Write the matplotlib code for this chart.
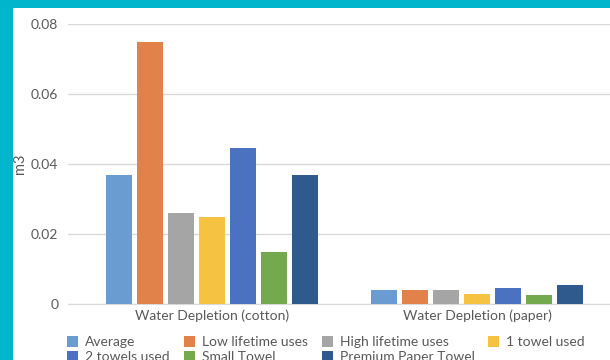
import numpy as np
import matplotlib.pyplot as plt
from matplotlib.patches import Rectangle

plt.rcParams['font.family'] = ['Lato', 'DejaVu Sans']

# Data
categories = ['Water Depletion (cotton)', 'Water Depletion (paper)']
series = ['Average', 'Low lifetime uses', 'High lifetime uses', '1 towel used',
          '2 towels used', 'Small Towel', 'Premium Paper Towel']
cotton = [0.037, 0.075, 0.026, 0.025, 0.0446, 0.015, 0.037]
paper = [0.0041, 0.0041, 0.0041, 0.0030, 0.0045, 0.0025, 0.0053]
colors = ['#6A9BD1', '#E0824A', '#A5A5A5', '#F5C242',
          '#4A72C0', '#74A94E', '#2F5A8E']

text_col = '#595959'
grid_col = '#D9D9D9'

fig = plt.figure(figsize=(6.1, 3.6), dpi=100, facecolor='#00B5CC')
# white panel inside the teal border
fig.patches.append(Rectangle((13/610, 0), 1, 352/360, transform=fig.transFigure,
                             facecolor='white', edgecolor='none', zorder=-5))

ax = fig.add_axes([68/610, 56/360, 542/610, 280/360])
ax.set_facecolor('none')
ax.set_zorder(2)

x = np.arange(len(categories))
width = 0.098
step = 0.117
for i, name in enumerate(series):
    vals = [cotton[i], paper[i]]
    ax.bar(x + (i - 3) * step, vals, width, color=colors[i], label=name, zorder=3)

ax.set_xlim(-0.543, 1.502)
ax.set_ylim(0, 0.08)
ax.set_yticks([0, 0.02, 0.04, 0.06, 0.08])
ax.set_yticklabels(['0', '0.02', '0.04', '0.06', '0.08'])
ax.set_xticks(x)
ax.set_xticklabels(categories)
ax.tick_params(length=0, labelsize=10, labelcolor=text_col)
ax.tick_params(axis='y', pad=7)
ax.tick_params(axis='x', pad=4)
ax.grid(axis='y', color=grid_col, lw=1, zorder=0)
for s in ['top', 'right', 'left']:
    ax.spines[s].set_visible(False)
ax.spines['bottom'].set_color(grid_col)
ax.set_ylabel('m3', fontsize=10.5, color=text_col, labelpad=3)

# legend in row-major order with 4 columns
h, l = ax.get_legend_handles_labels()
order = [0, 4, 1, 5, 2, 6, 3]
leg = fig.legend([h[k] for k in order], [l[k] for k in order], ncol=4,
                 loc='upper left', bbox_to_anchor=(67/610, 24/360),
                 frameon=False, fontsize=10, handlelength=0.8, handleheight=0.8,
                 handletextpad=0.5, columnspacing=1.0, labelspacing=0.2,
                 borderaxespad=0, borderpad=0)
leg.set_zorder(3)
for t in leg.get_texts():
    t.set_color(text_col)

fig.savefig('out.png', dpi=100, facecolor=fig.get_facecolor())
